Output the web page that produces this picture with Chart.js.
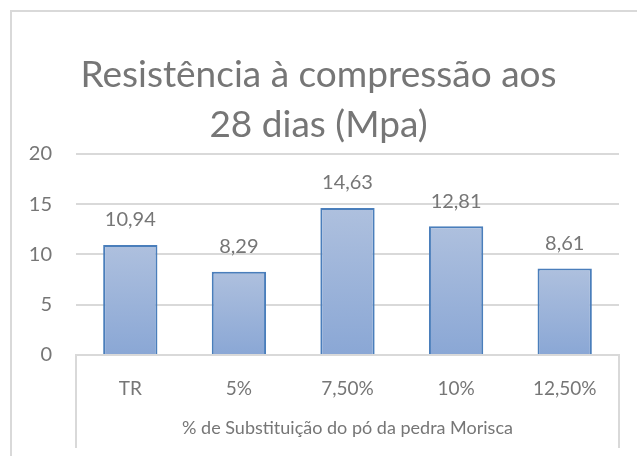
<!DOCTYPE html>
<html>
<head>
<meta charset="utf-8">
<script src="https://cdn.jsdelivr.net/npm/chart.js@4"></script>
<style>
  html, body { margin: 0; padding: 0; background: #fff; }
  #wrap { width: 637px; height: 456px; }
</style>
</head>
<body>
<div id="wrap"><canvas id="resistChart"></canvas></div>
<script>
const categories = ['TR', '5%', '7,50%', '10%', '12,50%'];
const resistance = [10.94, 8.29, 14.63, 12.81, 8.61];
const yTicks = [0, 5, 10, 15, 20];

const titleLines = ['Resistência à compressão aos', '28 dias (Mpa)'];
const xTitle = '% de Substituição do pó da pedra Morisca';

const textGray = '#767676';
const gridGray = '#d9d9d9';
const fontFamily = 'Lato, "Open Sans", sans-serif';

// labels above each bar, comma decimal like the original
const valueLabels = {
  id: 'valueLabels',
  afterDatasetsDraw(chart) {
    const ctx = chart.ctx;
    const meta = chart.getDatasetMeta(0);
    ctx.save();
    ctx.font = '20px ' + fontFamily;
    ctx.fillStyle = textGray;
    ctx.textAlign = 'center';
    ctx.textBaseline = 'middle';
    meta.data.forEach((bar, i) => {
      const txt = resistance[i].toFixed(2).replace('.', ',');
      ctx.fillText(txt, bar.x, bar.y - 25);
    });
    ctx.restore();
  }
};

// frame lines: outer chart border and the axis side lines
const frameLines = {
  id: 'frameLines',
  afterDraw(chart) {
    const ctx = chart.ctx;
    const area = chart.chartArea;
    ctx.save();
    ctx.strokeStyle = gridGray;
    ctx.lineWidth = 2;
    ctx.beginPath();
    ctx.moveTo(11, chart.height);
    ctx.lineTo(11, 11);
    ctx.lineTo(chart.width, 11);
    ctx.stroke();
    ctx.beginPath();
    ctx.moveTo(area.left, area.bottom);
    ctx.lineTo(area.left, 448);
    ctx.moveTo(area.right, area.bottom);
    ctx.lineTo(area.right, 448);
    ctx.stroke();
    ctx.restore();
  }
};

function barGradient(context) {
  const chart = context.chart;
  const area = chart.chartArea;
  if (!area) return '#9db3d9';
  const yScale = chart.scales.y;
  const top = yScale.getPixelForValue(resistance[context.dataIndex]);
  const g = chart.ctx.createLinearGradient(0, top, 0, area.bottom);
  g.addColorStop(0, '#aec0de');
  g.addColorStop(1, '#8aa7d5');
  return g;
}

new Chart(document.getElementById('resistChart').getContext('2d'), {
  type: 'bar',
  data: {
    labels: categories,
    datasets: [{
      data: resistance,
      backgroundColor: barGradient,
      borderColor: '#4a7ebb',
      borderWidth: 2,
      borderSkipped: 'bottom',
      categoryPercentage: 1,
      barPercentage: 0.5
    }]
  },
  options: {
    responsive: true,
    maintainAspectRatio: false,
    animation: false,
    layout: { padding: { left: 18, right: 18, top: 0, bottom: 8 } },
    plugins: {
      legend: { display: false },
      tooltip: { enabled: false },
      title: {
        display: true,
        text: titleLines,
        color: textGray,
        font: { family: fontFamily, size: 37, weight: 'normal', lineHeight: 1.35 },
        padding: { top: 50, bottom: 4 }
      }
    },
    scales: {
      x: {
        afterFit(scale) { scale.height = 93; },
        grid: { display: false },
        border: { display: true, color: gridGray, width: 2 },
        ticks: { color: textGray, font: { family: fontFamily, size: 19 }, padding: 14 },
        title: {
          display: true,
          text: xTitle,
          color: textGray,
          font: { family: fontFamily, size: 18 },
          padding: { top: 6, bottom: 9 }
        }
      },
      y: {
        min: 0,
        max: 20,
        afterBuildTicks(scale) { scale.ticks = yTicks.map(v => ({ value: v })); },
        afterFit(scale) { scale.width = 58; },
        grid: { color: gridGray, lineWidth: 2, drawTicks: false },
        border: { display: false },
        ticks: { color: textGray, font: { family: fontFamily, size: 20 }, padding: 24 }
      }
    }
  },
  plugins: [valueLabels, frameLines]
});
</script>
</body>
</html>
